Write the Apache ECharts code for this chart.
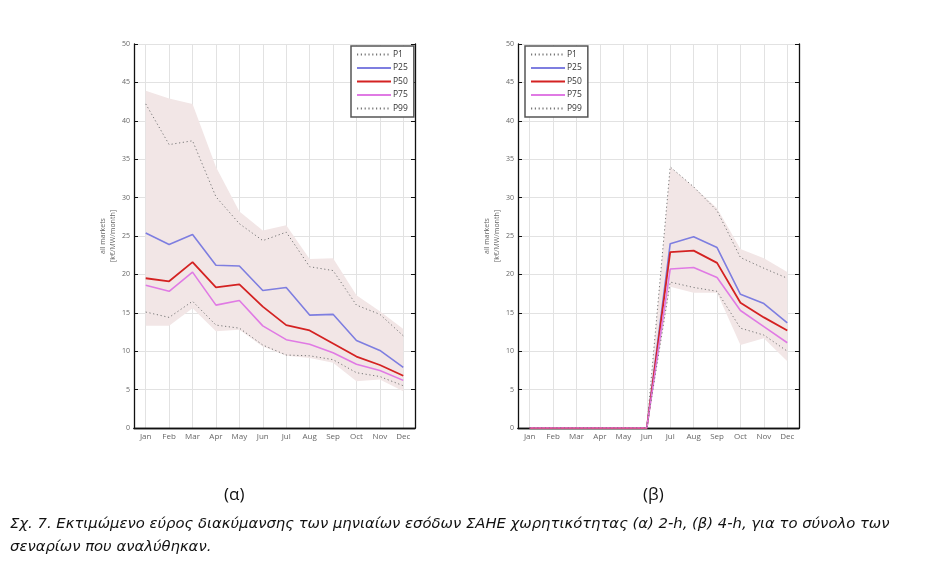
<!DOCTYPE html>
<html>
<head>
<meta charset="utf-8">
<script src="https://cdn.jsdelivr.net/npm/echarts@6/dist/echarts.min.js"></script>
<style>
html, body { margin: 0; padding: 0; background: #fff; }
#main { width: 926px; height: 577px; }
</style>
</head>
<body>
<div id="main"></div>
<script>
// μήνες
var months = ['Jan', 'Feb', 'Mar', 'Apr', 'May', 'Jun', 'Jul', 'Aug', 'Sep', 'Oct', 'Nov', 'Dec'];
var yTicks = [0, 50, 5]; // min, max, step

// (α) 2-h
var a_p1  = [42.2, 36.9, 37.4, 30.1, 26.6, 24.4, 25.5, 21.0, 20.5, 16.0, 14.8, 12.0];
var a_p25 = [25.4, 23.9, 25.2, 21.2, 21.1, 17.9, 18.3, 14.7, 14.8, 11.4, 10.1, 7.9];
var a_p50 = [19.5, 19.1, 21.6, 18.3, 18.7, 15.8, 13.4, 12.7, 11.0, 9.3, 8.2, 6.8];
var a_p75 = [18.6, 17.8, 20.3, 16.0, 16.6, 13.3, 11.5, 10.9, 9.8, 8.3, 7.5, 6.2];
var a_p99 = [15.1, 14.4, 16.5, 13.4, 13.0, 10.8, 9.5, 9.4, 8.9, 7.2, 6.7, 5.5];
var a_max = [43.9, 42.9, 42.2, 34.0, 28.2, 25.7, 26.4, 22.0, 22.1, 17.3, 15.2, 12.9];
var a_min = [13.3, 13.3, 15.6, 12.6, 12.8, 10.6, 9.4, 9.1, 8.5, 6.1, 6.3, 4.8];

// (β) 4-h
var b_p1  = [0, 0, 0, 0, 0, 0, 34.0, 31.4, 28.3, 22.2, 20.8, 19.5];
var b_p25 = [0, 0, 0, 0, 0, 0, 24.0, 24.9, 23.5, 17.4, 16.2, 13.7];
var b_p50 = [0, 0, 0, 0, 0, 0, 22.9, 23.1, 21.5, 16.3, 14.4, 12.7];
var b_p75 = [0, 0, 0, 0, 0, 0, 20.7, 20.9, 19.6, 15.3, 13.2, 11.1];
var b_p99 = [0, 0, 0, 0, 0, 0, 19.0, 18.3, 17.8, 13.0, 12.1, 10.0];
var b_max = [0, 0, 0, 0, 0, 0, 34.0, 31.4, 28.6, 23.3, 22.1, 20.3];
var b_min = [0, 0, 0, 0, 0, 0, 18.4, 17.6, 17.6, 10.8, 11.7, 8.7];

var legendNames = ['P1', 'P25', 'P50', 'P75', 'P99'];

var myChart = echarts.init(document.getElementById('main'));

var gridColor = '#e2e2e2';
var labelColor = '#666';

function xAxes(gi) {
    return [{
        type: 'category', gridIndex: gi, data: months, position: 'bottom',
        boundaryGap: true,
        axisLine: { lineStyle: { color: '#111', width: 1.3 } },
        axisTick: { inside: true, alignWithLabel: true, length: 4, lineStyle: { color: '#111' } },
        axisLabel: { color: labelColor, fontSize: 8, margin: 5, fontFamily: 'Open Sans' },
        splitLine: { show: true, alignWithLabel: true, lineStyle: { color: gridColor, width: 1 } }
    }, {
        type: 'category', gridIndex: gi, data: months, position: 'top',
        boundaryGap: true,
        axisLine: { lineStyle: { color: '#111', width: 1.3 } },
        axisTick: { inside: true, alignWithLabel: true, length: 4, lineStyle: { color: '#111' } },
        axisLabel: { show: false },
        splitLine: { show: false }
    }];
}

function yAxes(gi) {
    return [{
        type: 'value', gridIndex: gi, min: yTicks[0], max: yTicks[1], interval: yTicks[2],
        position: 'left',
        name: 'all markets\n[k€/MW/month]', nameLocation: 'middle', nameGap: 15,
        nameTextStyle: { color: labelColor, fontSize: 7, lineHeight: 10, fontFamily: 'Open Sans' },
        axisLine: { show: true, lineStyle: { color: '#111', width: 1.3 } },
        axisTick: { show: true, inside: true, length: 4, lineStyle: { color: '#111' } },
        axisLabel: { color: labelColor, fontSize: 7, margin: 4, fontFamily: 'Open Sans' },
        splitLine: { show: true, lineStyle: { color: gridColor, width: 1 } }
    }, {
        type: 'value', gridIndex: gi, min: yTicks[0], max: yTicks[1], interval: yTicks[2],
        position: 'right',
        axisLine: { show: true, lineStyle: { color: '#111', width: 1.3 } },
        axisTick: { show: true, inside: true, length: 4, lineStyle: { color: '#111' } },
        axisLabel: { show: false },
        splitLine: { show: false }
    }];
}

function chartSeries(gi, p1, p25, p50, p75, p99, lo, hi) {
    var xi = gi * 2, yi = gi * 2;
    var stackName = 'band' + gi;
    var range = hi.map(function (v, i) { return +(v - lo[i]).toFixed(2); });
    var dotted = { color: '#777', width: 1, type: [1.2, 2.6] };
    var base = { type: 'line', xAxisIndex: xi, yAxisIndex: yi, symbol: 'none', silent: true, animation: false };
    return [
        Object.assign({}, base, { name: 'min' + gi, data: lo, stack: stackName, lineStyle: { opacity: 0 }, z: 1 }),
        Object.assign({}, base, { name: 'range' + gi, data: range, stack: stackName, lineStyle: { opacity: 0 },
            areaStyle: { color: '#f2e6e6', opacity: 1 }, z: 1 }),
        Object.assign({}, base, { name: 'P1', data: p1, lineStyle: dotted, itemStyle: { color: '#777' }, z: 3 }),
        Object.assign({}, base, { name: 'P25', data: p25, lineStyle: { color: '#7e7ee0', width: 1.6 }, itemStyle: { color: '#7e7ee0' }, z: 3 }),
        Object.assign({}, base, { name: 'P50', data: p50, lineStyle: { color: '#d42222', width: 1.8 }, itemStyle: { color: '#d42222' }, z: 3 }),
        Object.assign({}, base, { name: 'P75', data: p75, lineStyle: { color: '#e07ae4', width: 1.6 }, itemStyle: { color: '#e07ae4' }, z: 3 }),
        Object.assign({}, base, { name: 'P99', data: p99, lineStyle: dotted, itemStyle: { color: '#777' }, z: 3 })
    ];
}

function legendBox(left) {
    return {
        data: legendNames, orient: 'vertical', left: left, top: 46,
        itemWidth: 34, itemHeight: 8, itemGap: 4.5,
        padding: [4, 6, 4, 5],
        backgroundColor: '#fff',
        borderColor: '#555', borderWidth: 1.5,
        itemStyle: { opacity: 0, borderWidth: 0 },
        textStyle: { color: '#333', fontSize: 8.5, fontFamily: 'Open Sans', padding: [0, 0, 0, -3] },
        selectedMode: false
    };
}

var option = {
    backgroundColor: '#fff',
    animation: false,
    grid: [
        { left: 134, top: 44, width: 281, height: 384 },
        { left: 518, top: 44, width: 281, height: 384 }
    ],
    xAxis: xAxes(0).concat(xAxes(1)),
    yAxis: yAxes(0).concat(yAxes(1)),
    legend: [legendBox(351), legendBox(525)],
    series: chartSeries(0, a_p1, a_p25, a_p50, a_p75, a_p99, a_min, a_max)
        .concat(chartSeries(1, b_p1, b_p25, b_p50, b_p75, b_p99, b_min, b_max)),
    graphic: [
        { type: 'text', left: 224, top: 487, style: { text: '(α)', font: '17px "Open Sans"', fill: '#111' } },
        { type: 'text', left: 643, top: 487, style: { text: '(β)', font: '17px "Open Sans"', fill: '#111' } },
        { type: 'text', left: 10, top: 517, style: {
            text: 'Σχ. 7. Εκτιμώμενο εύρος διακύμανσης των μηνιαίων εσόδων ΣΑΗΕ χωρητικότητας (α) 2-h, (β) 4-h, για το σύνολο των',
            font: 'italic 14.8px "DejaVu Sans"', fill: '#111' } },
        { type: 'text', left: 10, top: 540, style: {
            text: 'σεναρίων που αναλύθηκαν.',
            font: 'italic 14.8px "DejaVu Sans"', fill: '#111' } }
    ]
};

myChart.setOption(option);

window.addEventListener('resize', function () {
    myChart.resize();
});
</script>
</body>
</html>
